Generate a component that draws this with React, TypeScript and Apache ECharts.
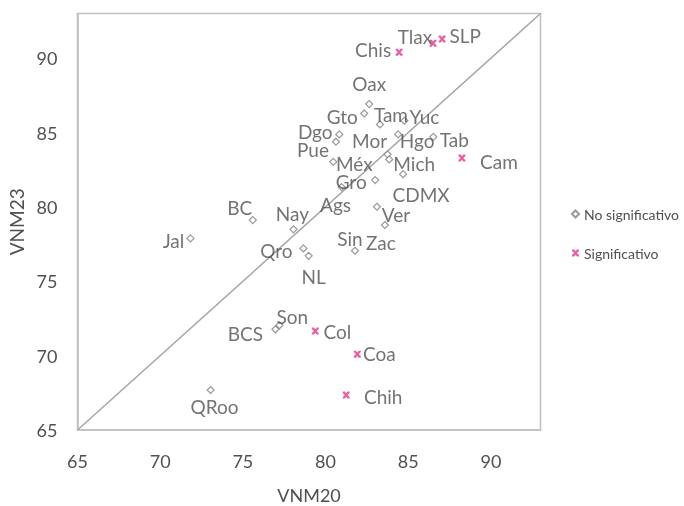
import React, { useEffect, useRef } from "react";
import * as echarts from "echarts";

// Non-significant states
const nsNames = ["Oax", "Gto", "Tam", "Yuc", "Dgo", "Pue", "Hgo", "Tab", "Mor", "Mich", "Méx", "CDMX", "Gro", "Ags", "Ver", "Zac", "Sin", "Nay", "BC", "Jal", "Qro", "NL", "BCS", "Son", "QRoo"];
const nsVNM20 = [82.64, 82.34, 83.29, 84.77, 80.83, 80.63, 84.39, 86.52, 83.75, 83.85, 80.47, 84.69, 83.0, 80.97, 83.11, 83.59, 81.78, 78.06, 75.6, 71.83, 78.66, 78.98, 76.97, 77.21, 73.05];
const nsVNM23 = [86.91, 86.28, 85.54, 85.79, 84.87, 84.38, 84.87, 84.71, 83.53, 83.19, 83.03, 82.2, 81.8, 81.33, 80.01, 78.78, 77.05, 78.49, 79.11, 77.88, 77.21, 76.71, 71.77, 72.04, 67.69];

// Significant states
const sNames = ["Chis", "Tlax", "SLP", "Cam", "Col", "Coa", "Chih"];
const sVNM20 = [84.45, 86.5, 87.05, 88.25, 79.38, 81.92, 81.25];
const sVNM23 = [90.4, 91.0, 91.28, 83.28, 71.65, 70.1, 67.35];

const axisMin = 65;
const axisMax = 93;
const tickStep = 5;

// label offsets (layout only)
const nsOffsets: number[][] = [[0, -21], [-22, 3], [11, -10], [20, -4], [-24, -3], [-23, 8], [19, 6], [21, 3], [-18, -14], [25, 4], [21, 2], [18, 20], [-24, 1], [-6, 17], [19, 8], [-4, 17], [-5, -12], [-1, -16], [-13, -13], [-17, 2], [-27, 2], [5, 21], [-30, 4], [13, -9], [4, 17]];
const sOffsets: number[][] = [[-26, -3], [-18, -7], [23, -4], [37, 3], [22, 0], [22, -1], [37, 1]];

const FONT = "Lato";
const TEXT = "#505050";
const PINK = "#e6338f";
const XMARK = "path://M0,0 L3,0 L5,2.5 L7,0 L10,0 L10,2 L7,5 L10,8 L10,10 L7,10 L5,7.5 L3,10 L0,10 L0,8 L3,5 L0,2 Z";

export default function App() {
  const ref = useRef<HTMLDivElement>(null);
  useEffect(() => {
    if (!ref.current) return;
    const chart = echarts.init(ref.current, null, { renderer: "svg" });
    const mkLabel = (off: number[]) => ({
      show: true,
      position: "inside",
      align: "center",
      verticalAlign: "middle",
      offset: off,
      formatter: "{b}",
      color: TEXT,
      fontFamily: FONT,
      fontSize: 19,
    });
    const nsData = nsNames.map((n, i) => ({ name: n, value: [nsVNM20[i], nsVNM23[i]], label: mkLabel(nsOffsets[i]) }));
    const sData = sNames.map((n, i) => ({ name: n, value: [sVNM20[i], sVNM23[i]], label: mkLabel(sOffsets[i]) }));
    chart.setOption({
      animation: false,
      textStyle: { fontFamily: FONT },
      grid: {
        left: 77.5,
        top: 13.5,
        width: 463,
        height: 416.5,
        show: true,
        borderColor: "#c0c0c0",
        borderWidth: 1.5,
        containLabel: false,
        outerBoundsMode: "none",
      },
      legend: {
        orient: "vertical",
        left: 571,
        top: 207,
        padding: 0,
        itemWidth: 7,
        itemHeight: 7,
        itemGap: 25,
        data: ["No significativo", "Significativo"],
        textStyle: { color: TEXT, fontSize: 14, fontFamily: FONT },
      },
      xAxis: {
        type: "value",
        min: axisMin,
        max: axisMax,
        interval: tickStep,
        name: "VNM20",
        nameLocation: "middle",
        nameGap: 56,
        nameTextStyle: { color: TEXT, fontSize: 18, fontFamily: FONT },
        axisLine: { show: true, lineStyle: { color: "#c0c0c0", width: 1.5 } },
        axisTick: { show: false },
        splitLine: { show: false },
        axisLabel: {
          color: TEXT,
          fontSize: 18,
          fontFamily: FONT,
          margin: 22,
          showMaxLabel: false,
          formatter: (v: number) => (v % tickStep === 0 ? String(v) : ""),
        },
      },
      yAxis: {
        type: "value",
        min: axisMin,
        max: axisMax,
        interval: tickStep,
        name: "VNM23",
        nameLocation: "middle",
        nameGap: 50,
        nameTextStyle: { color: TEXT, fontSize: 19, fontFamily: FONT },
        axisLine: { show: true, lineStyle: { color: "#c0c0c0", width: 1.5 } },
        axisTick: { show: false },
        splitLine: { show: false },
        axisLabel: {
          color: TEXT,
          fontSize: 18,
          fontFamily: FONT,
          margin: 20,
          showMaxLabel: false,
          formatter: (v: number) => (v % tickStep === 0 ? String(v) : ""),
        },
      },
      series: [
        {
          type: "line",
          silent: true,
          symbol: "none",
          data: [[axisMin, axisMin], [axisMax, axisMax]],
          lineStyle: { color: "#a6a6a6", width: 1.5 },
          z: 1,
        },
        {
          name: "No significativo",
          type: "scatter",
          symbol: "diamond",
          symbolSize: 7,
          itemStyle: { color: "#ffffff", borderColor: "#7f7f7f", borderWidth: 1.2 },
          data: nsData,
          z: 3,
        },
        {
          name: "Significativo",
          type: "scatter",
          symbol: XMARK,
          symbolSize: 7,
          itemStyle: { color: PINK },
          data: sData,
          z: 3,
        },
      ],
    });
    return () => chart.dispose();
  }, []);
  return <div ref={ref} style={{ position: "fixed", left: 0, top: 0, width: 684, height: 506 }} />;
}
